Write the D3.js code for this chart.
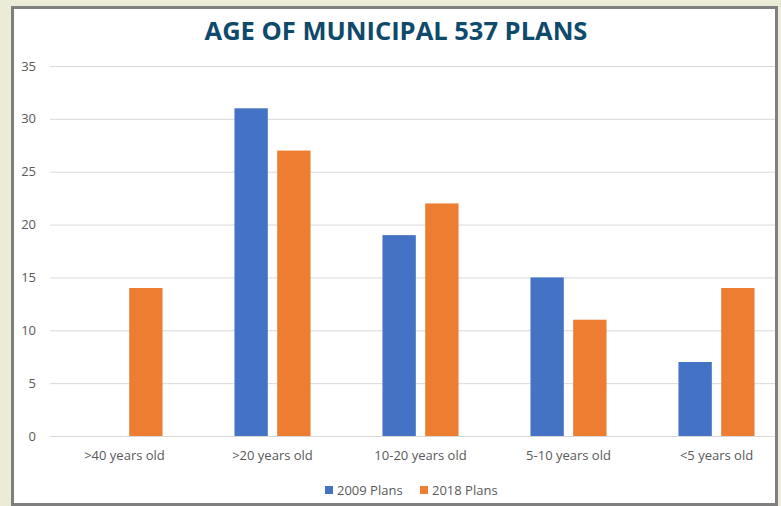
<!DOCTYPE html>
<html>
<head>
<meta charset="utf-8">
<script src="https://cdn.jsdelivr.net/npm/d3@7"></script>
<style>
  html, body { margin: 0; padding: 0; background: #ebebd7; }
  svg { display: block; }
</style>
</head>
<body>
<svg id="chart" width="781" height="506"></svg>
<script>
// Age bands of municipal 537 plans
const categories = [">40 years old", ">20 years old", "10-20 years old", "5-10 years old", "<5 years old"];
const seriesNames = ["2009 Plans", "2018 Plans"];
const plans2009 = [0, 31, 19, 15, 7];
const plans2018 = [14, 27, 22, 11, 14];
const yTicks = [0, 5, 10, 15, 20, 25, 30, 35];
const colors = ["#4472c4", "#ed7d31"];

const rows = categories.map((c, i) => ({ category: c, values: [plans2009[i], plans2018[i]] }));

const svg = d3.select("#chart");
const W = 781, H = 506;

// page background and white chart area with a grey frame
svg.append("rect").attr("width", W).attr("height", H).attr("fill", "#ebebd7");
const frame = { x: 12.5, y: 7.5, w: 764, h: 497 };

svg.append("defs").append("clipPath").attr("id", "plotClip")
  .append("rect").attr("x", frame.x).attr("y", frame.y).attr("width", frame.w).attr("height", frame.h);

svg.append("rect")
  .attr("x", frame.x).attr("y", frame.y).attr("width", frame.w).attr("height", frame.h)
  .attr("fill", "#ffffff");

const font = "Open Sans, 'Noto Sans', sans-serif";
const smallSize = 13;

const x0 = d3.scaleBand().domain(categories).range([50.5, 790.5]).paddingInner(0.486).paddingOuter(0.243);
const x1 = d3.scaleBand().domain(seriesNames).range([0, x0.bandwidth()]).paddingInner(0.22).paddingOuter(0);
const y = d3.scaleLinear().domain([0, 35]).range([436, 66]);

const plot = svg.append("g").attr("clip-path", "url(#plotClip)");

// horizontal gridlines
const yAxis = d3.axisLeft(y).tickValues(yTicks).tickSize(-(790 - 50)).tickFormat(d3.format("d"));
const gy = plot.append("g").attr("transform", "translate(50,0)").call(yAxis);
gy.select(".domain").remove();
gy.selectAll(".tick line").attr("stroke", "#d9d9d9").attr("stroke-width", 1);
gy.selectAll(".tick text").remove();

// y tick labels (outside the clip so they stay visible)
svg.append("g").selectAll("text").data(yTicks).join("text")
  .attr("x", 36).attr("y", d => y(d)).attr("dy", "0.35em")
  .attr("text-anchor", "end")
  .attr("font-family", font).attr("font-size", smallSize).attr("fill", "#595959")
  .text(d => d);

// bars
const groups = plot.append("g").selectAll("g").data(rows).join("g")
  .attr("transform", d => `translate(${x0(d.category)},0)`);
groups.selectAll("rect").data(d => d.values.map((v, i) => ({ key: seriesNames[i], value: v, i })))
  .join("rect")
  .attr("x", d => x1(d.key))
  .attr("width", x1.bandwidth())
  .attr("y", d => y(d.value))
  .attr("height", d => y(0) - y(d.value))
  .attr("fill", d => colors[d.i]);

// x axis baseline and category labels
const xAxis = d3.axisBottom(x0).tickSize(0).tickPadding(15);
const gx = plot.append("g").attr("transform", `translate(0,${y(0)})`).call(xAxis);
gx.select(".domain").attr("stroke", "#d9d9d9").attr("d", "M50,0.5H790");
gx.selectAll(".tick text").attr("font-family", font).attr("font-size", smallSize).attr("fill", "#595959");

// title
svg.append("text")
  .attr("x", 396).attr("y", 40)
  .attr("text-anchor", "middle")
  .attr("font-family", font).attr("font-weight", "bold").attr("font-size", 25.5)
  .attr("fill", "#0e4a6b")
  .text("AGE OF MUNICIPAL 537 PLANS");

// legend
const legendX = [325, 420];
const legend = svg.append("g").selectAll("g").data(seriesNames).join("g")
  .attr("transform", (d, i) => `translate(${legendX[i]},486)`);
legend.append("rect").attr("width", 8).attr("height", 8).attr("fill", (d, i) => colors[i]);
legend.append("text").attr("x", 12).attr("y", 4).attr("dy", "0.35em")
  .attr("font-family", font).attr("font-size", smallSize).attr("fill", "#595959")
  .text(d => d);

// frame border on top
svg.append("rect")
  .attr("x", frame.x).attr("y", frame.y).attr("width", frame.w).attr("height", frame.h)
  .attr("fill", "none").attr("stroke", "#7f7f7f").attr("stroke-width", 3);
</script>
</body>
</html>
